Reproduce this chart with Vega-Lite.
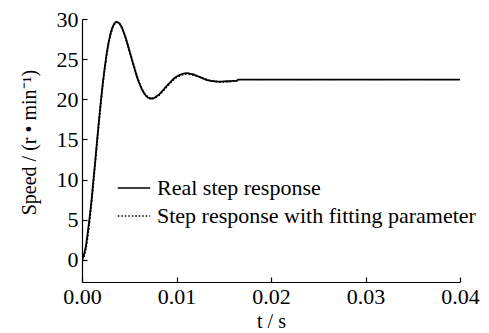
{
  "$schema": "https://vega.github.io/schema/vega-lite/v6.json",
  "width": 378,
  "height": 263,
  "autosize": {"type": "none"},
  "padding": {"left": 82, "top": 19, "right": 29, "bottom": 51},
  "background": "white",
  "config": {
    "view": {"stroke": null},
    "font": "Liberation Serif",
    "axis": {"grid": false, "domainColor": "black", "tickColor": "black", "labelColor": "black", "titleColor": "black", "labelFont": "Liberation Serif", "titleFont": "Liberation Serif", "labelFontSize": 22, "titleFontSize": 20, "titleFontWeight": "normal", "domainWidth": 1.2, "tickWidth": 1.2, "labelFlush": false, "labelOverlap": false},
    "legend": {"labelFont": "Liberation Serif", "labelFontSize": 22, "labelColor": "black", "labelLimit": 500}
  },
  "data": {"values": [
    {"s":"F","t":0,"v":0},{"s":"F","t":0.0002,"v":0.35},{"s":"F","t":0.0004,"v":1.33},{"s":"F","t":0.0006,"v":2.84},{"s":"F","t":0.0008,"v":4.79},{"s":"F","t":0.001,"v":7.04},{"s":"F","t":0.0012,"v":9.51},{"s":"F","t":0.0014,"v":12.07},{"s":"F","t":0.0016,"v":14.67},{"s":"F","t":0.0018,"v":17.17},{"s":"F","t":0.002,"v":19.6},{"s":"F","t":0.0022,"v":21.8},{"s":"F","t":0.0024,"v":23.76},{"s":"F","t":0.0026,"v":25.46},{"s":"F","t":0.0028,"v":26.87},{"s":"F","t":0.003,"v":27.98},{"s":"F","t":0.0032,"v":28.79},{"s":"F","t":0.0034,"v":29.31},{"s":"F","t":0.0036,"v":29.57},{"s":"F","t":0.0038,"v":29.57},{"s":"F","t":0.004,"v":29.35},{"s":"F","t":0.0042,"v":28.94},{"s":"F","t":0.0044,"v":28.38},{"s":"F","t":0.0046,"v":27.7},{"s":"F","t":0.0048,"v":26.95},{"s":"F","t":0.005,"v":26.15},{"s":"F","t":0.0052,"v":25.34},{"s":"F","t":0.0054,"v":24.54},{"s":"F","t":0.0056,"v":23.78},{"s":"F","t":0.0058,"v":22.94},{"s":"F","t":0.006,"v":22.27},{"s":"F","t":0.0062,"v":21.68},{"s":"F","t":0.0064,"v":21.18},{"s":"F","t":0.0066,"v":20.77},{"s":"F","t":0.0068,"v":20.46},{"s":"F","t":0.007,"v":20.25},{"s":"F","t":0.0072,"v":20.13},{"s":"F","t":0.0074,"v":20.09},{"s":"F","t":0.0076,"v":20.13},{"s":"F","t":0.0078,"v":20.23},{"s":"F","t":0.008,"v":20.38},{"s":"F","t":0.0082,"v":20.58},{"s":"F","t":0.0084,"v":20.81},{"s":"F","t":0.0086,"v":21.07},{"s":"F","t":0.0088,"v":21.33},{"s":"F","t":0.009,"v":21.6},{"s":"F","t":0.0092,"v":21.86},{"s":"F","t":0.0094,"v":22.11},{"s":"F","t":0.0096,"v":22.34},{"s":"F","t":0.0098,"v":22.54},{"s":"F","t":0.01,"v":22.72},{"s":"F","t":0.0102,"v":22.86},{"s":"F","t":0.0104,"v":22.98},{"s":"F","t":0.0106,"v":23.06},{"s":"F","t":0.0108,"v":23.11},{"s":"F","t":0.011,"v":23.14},{"s":"F","t":0.0112,"v":23.14},{"s":"F","t":0.0114,"v":23.12},{"s":"F","t":0.0116,"v":23.07},{"s":"F","t":0.0118,"v":23.02},{"s":"F","t":0.012,"v":22.95},{"s":"F","t":0.0124,"v":22.79},{"s":"F","t":0.0128,"v":22.62},{"s":"F","t":0.0132,"v":22.46},{"s":"F","t":0.0136,"v":22.33},{"s":"F","t":0.014,"v":22.23},{"s":"F","t":0.0144,"v":22.18},{"s":"F","t":0.0148,"v":22.16},{"s":"F","t":0.0152,"v":22.18},{"s":"F","t":0.0156,"v":22.21},{"s":"F","t":0.016,"v":22.26},{"s":"F","t":0.0164,"v":22.28},
    {"s":"R","t":0,"v":0},{"s":"R","t":0.0002,"v":0.6},{"s":"R","t":0.0004,"v":1.6},{"s":"R","t":0.0006,"v":3.3},{"s":"R","t":0.0008,"v":5.2},{"s":"R","t":0.001,"v":7.3},{"s":"R","t":0.0012,"v":9.8},{"s":"R","t":0.0014,"v":12.3},{"s":"R","t":0.0016,"v":14.9},{"s":"R","t":0.0018,"v":17.4},{"s":"R","t":0.002,"v":19.8},{"s":"R","t":0.0022,"v":22.0},{"s":"R","t":0.0024,"v":23.9},{"s":"R","t":0.0026,"v":25.6},{"s":"R","t":0.0028,"v":27.0},{"s":"R","t":0.003,"v":28.1},{"s":"R","t":0.0032,"v":28.9},{"s":"R","t":0.0034,"v":29.4},{"s":"R","t":0.0036,"v":29.65},{"s":"R","t":0.0038,"v":29.6},{"s":"R","t":0.004,"v":29.4},{"s":"R","t":0.0042,"v":29.0},{"s":"R","t":0.0044,"v":28.4},{"s":"R","t":0.0046,"v":27.75},{"s":"R","t":0.0048,"v":26.95},{"s":"R","t":0.005,"v":26.1},{"s":"R","t":0.0052,"v":25.3},{"s":"R","t":0.0054,"v":24.45},{"s":"R","t":0.0056,"v":23.65},{"s":"R","t":0.0058,"v":22.85},{"s":"R","t":0.006,"v":22.2},{"s":"R","t":0.0062,"v":21.6},{"s":"R","t":0.0064,"v":21.1},{"s":"R","t":0.0066,"v":20.7},{"s":"R","t":0.0068,"v":20.4},{"s":"R","t":0.007,"v":20.2},{"s":"R","t":0.0072,"v":20.1},{"s":"R","t":0.0074,"v":20.1},{"s":"R","t":0.0076,"v":20.15},{"s":"R","t":0.0078,"v":20.3},{"s":"R","t":0.008,"v":20.45},{"s":"R","t":0.0082,"v":20.65},{"s":"R","t":0.0084,"v":20.9},{"s":"R","t":0.0086,"v":21.15},{"s":"R","t":0.0088,"v":21.45},{"s":"R","t":0.009,"v":21.7},{"s":"R","t":0.0092,"v":21.95},{"s":"R","t":0.0094,"v":22.2},{"s":"R","t":0.0096,"v":22.45},{"s":"R","t":0.0098,"v":22.65},{"s":"R","t":0.01,"v":22.8},{"s":"R","t":0.0102,"v":22.95},{"s":"R","t":0.0104,"v":23.05},{"s":"R","t":0.0106,"v":23.15},{"s":"R","t":0.0108,"v":23.2},{"s":"R","t":0.011,"v":23.25},{"s":"R","t":0.0112,"v":23.25},{"s":"R","t":0.0114,"v":23.2},{"s":"R","t":0.0116,"v":23.15},{"s":"R","t":0.0118,"v":23.1},{"s":"R","t":0.012,"v":23.0},{"s":"R","t":0.0124,"v":22.8},{"s":"R","t":0.0128,"v":22.6},{"s":"R","t":0.0132,"v":22.4},{"s":"R","t":0.0136,"v":22.3},{"s":"R","t":0.014,"v":22.25},{"s":"R","t":0.0144,"v":22.2},{"s":"R","t":0.0148,"v":22.2},{"s":"R","t":0.0152,"v":22.25},{"s":"R","t":0.0156,"v":22.25},{"s":"R","t":0.016,"v":22.3},{"s":"R","t":0.0164,"v":22.3},{"s":"R","t":0.0165,"v":22.45},{"s":"R","t":0.04,"v":22.45}
  ]},
  "mark": {"type": "line", "color": "black", "strokeWidth": 1.8, "clip": true},
  "encoding": {
    "x": {"field": "t", "type": "quantitative", "scale": {"domain": [0, 0.04], "nice": false, "zero": false},
      "axis": {"values": [0, 0.01, 0.02, 0.03, 0.04], "format": ".2f", "tickSize": -5, "labelPadding": 9, "title": "t / s", "titlePadding": 4}},
    "y": {"field": "v", "type": "quantitative", "scale": {"domain": [-2.75, 30], "nice": false, "zero": false},
      "axis": {"values": [0, 5, 10, 15, 20, 25, 30], "tickSize": -5, "labelPadding": 9, "title": "Speed / (r • min⁻¹)", "titlePadding": 17, "titleY": 123}},
    "strokeDash": {"field": "s", "type": "nominal",
      "scale": {"domain": ["R", "F"], "range": [[1, 0], [1.5, 2]]},
      "legend": {"orient": "none", "legendX": 35, "legendY": 152, "title": null, "symbolType": "stroke", "symbolSize": 1050, "symbolStrokeWidth": 1.5, "symbolStrokeColor": "black", "rowPadding": -8, "labelOffset": 6,
        "labelExpr": "datum.value == 'R' ? 'Real step response' : 'Step response with fitting parameter'"}}
  }
}
